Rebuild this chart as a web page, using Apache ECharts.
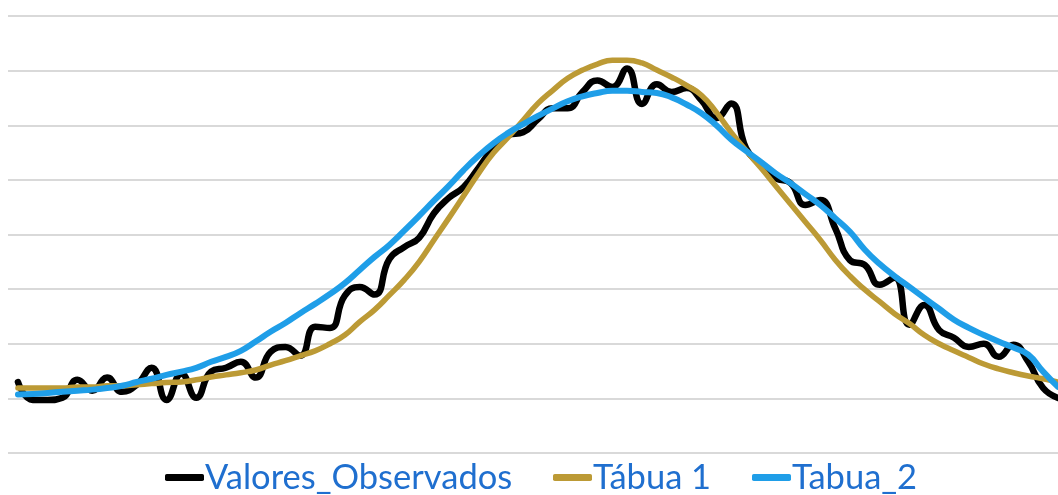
<!DOCTYPE html>
<html>
<head>
<meta charset="utf-8">
<script src="https://cdn.jsdelivr.net/npm/echarts@6/dist/echarts.min.js"></script>
<style>
html,body{margin:0;padding:0;background:#fff;}
#chart{width:1058px;height:495px;}
</style>
</head>
<body>
<div id="chart"></div>
<script>
const ages = [20,21,22,23,24,25,26,27,28,29,30,31,32,33,34,35,36,37,38,39,40,41,42,43,44,45,46,47,48,49,50,51,52,53,54,55,56,57,58,59,60,61,62,63,64,65,66,67,68,69,70,71,72,73,74,75,76,77,78,79,80,81,82,83,84,85,86,87,88,89,90];

const valoresObservados = [13.0,9.7,9.7,10.1,13.4,11.4,13.8,11.2,12.5,15.6,9.7,14.5,10.1,14.9,15.6,16.7,13.8,18.5,19.4,17.8,23.1,22.9,28.8,30.4,29.0,35.5,37.7,39.4,43.9,46.7,48.7,52.2,55.8,58.2,58.7,61.1,63.1,63.1,66.1,68.2,67.0,70.4,63.9,67.5,66.1,66.8,64.6,61.3,64.0,55.8,52.7,50.3,49.4,45.4,46.3,41.2,35.3,34.4,30.8,32.1,23.5,27.1,22.5,21.1,19.4,20.0,17.6,19.8,16.7,11.9,10.1];

const tabua1 = [11.9,11.9,11.9,11.9,12.1,12.1,12.3,12.3,12.5,12.7,12.9,13.0,13.4,13.9,14.3,14.7,15.2,16.1,16.9,17.8,18.7,20.0,21.6,24.0,26.2,28.9,31.7,35.0,39.0,43.0,47.1,51.2,54.9,57.8,60.9,64.0,66.4,68.6,70.1,71.2,71.9,71.9,71.4,70.1,68.8,67.3,65.5,62.4,58.7,55.4,52.2,48.9,45.6,42.3,39.0,35.4,32.4,29.9,27.7,25.5,23.7,21.6,20.0,18.7,17.5,16.3,15.4,14.7,14.1,13.6,13.0];

const tabua2 = [10.7,10.8,11.0,11.2,11.4,11.6,11.9,12.3,13.0,13.6,14.3,14.9,15.6,16.7,17.6,18.7,20.4,22.2,23.8,25.6,27.3,29.1,31.1,33.5,35.9,38.1,40.7,43.4,46.2,48.9,51.8,54.4,56.7,58.6,60.2,61.7,63.1,64.4,65.3,65.9,66.3,66.3,66.1,65.9,65.1,63.8,62.2,60.0,57.4,55.3,53.3,51.2,49.4,47.4,45.4,43.0,40.5,37.2,34.6,32.4,30.4,28.4,26.4,24.4,22.9,21.6,20.4,19.3,18.0,14.9,12.1];

const seriesNames = ['Valores_Observados','Tábua 1','Tabua_2'];
const colors = ['#000000','#BC9A35','#1F9EE8'];

const pairs = arr => ages.map((a,i)=>[a, arr[i]]);

const chart = echarts.init(document.getElementById('chart'), null, {renderer:'canvas'});
const legendText = {color:'#1F6FCF', fontSize:34.5, fontFamily:'Lato', padding:[0,0,0,-4]};
function mkLegend(name, left){
  return {
    data:[{name:name, icon:'roundRect'}],
    left:left, top:460, itemWidth:39, itemHeight:7, itemGap:0, padding:0,
    textStyle:legendText, selectedMode:false
  };
}
chart.setOption({
  animation:false,
  backgroundColor:'#ffffff',
  grid:{left:8,right:0,top:16,bottom:42,containLabel:false},
  xAxis:{type:'value',min:19.33,max:90,show:false,splitLine:{show:false}},
  yAxis:{type:'value',min:0,max:80,interval:10,
    axisLabel:{show:false},axisTick:{show:false},axisLine:{show:false},
    splitLine:{show:true,lineStyle:{color:'#D9D9D9',width:2}}},
  legend:[mkLegend(seriesNames[0],165), mkLegend(seriesNames[1],553), mkLegend(seriesNames[2],752)],
  series:[
    {name:seriesNames[0],type:'line',data:pairs(valoresObservados),smooth:0.5,symbol:'none',
      lineStyle:{color:colors[0],width:6.5,cap:'round',join:'round'},itemStyle:{color:colors[0]}},
    {name:seriesNames[1],type:'line',data:pairs(tabua1),smooth:0.5,symbol:'none',
      lineStyle:{color:colors[1],width:5.5,cap:'round',join:'round'},itemStyle:{color:colors[1]}},
    {name:seriesNames[2],type:'line',data:pairs(tabua2),smooth:0.5,symbol:'none',
      lineStyle:{color:colors[2],width:6,cap:'round',join:'round'},itemStyle:{color:colors[2]}}
  ]
});
</script>
</body>
</html>
